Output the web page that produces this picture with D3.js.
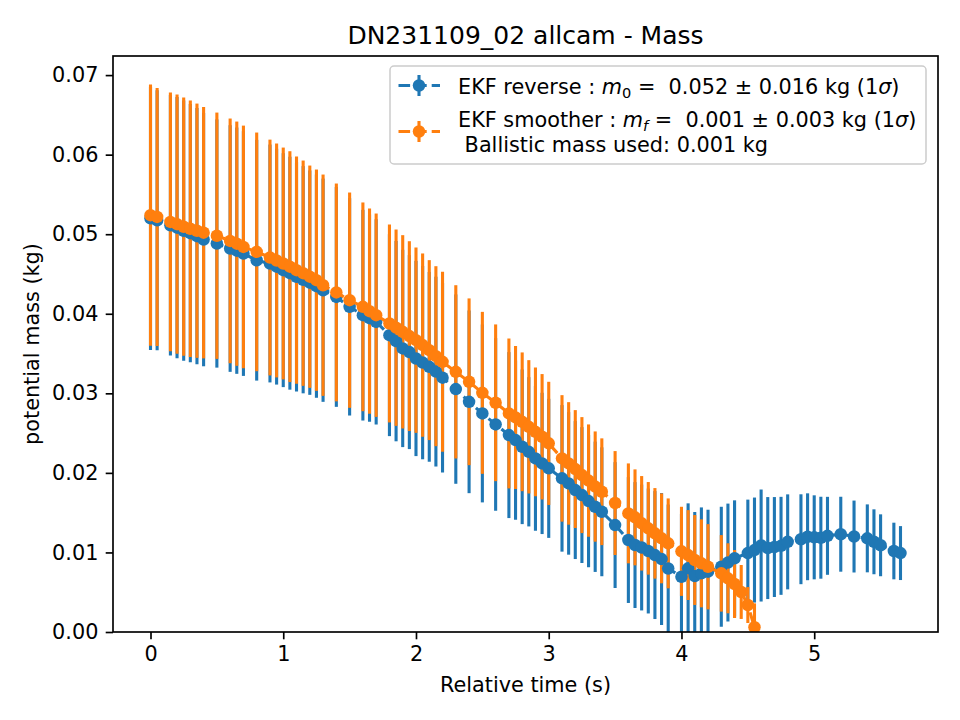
<!DOCTYPE html>
<html>
<head>
<meta charset="utf-8">
<script src="https://cdn.jsdelivr.net/npm/d3@7"></script>
<style>
  body { margin: 0; background: #fff; }
  svg { display: block; font-family: "DejaVu Sans", sans-serif; }
  text { white-space: pre; }
</style>
</head>
<body>
<svg id="chart" width="960" height="720"></svg>
<script>
'use strict';

// EKF reverse (blue)
var reverseTime = [0, 0.05, 0.15, 0.2, 0.25, 0.3, 0.35, 0.4, 0.5, 0.6, 0.65, 0.7, 0.8, 0.9, 0.95,
  1.0, 1.05, 1.1, 1.15, 1.2, 1.25, 1.3, 1.4, 1.5, 1.6, 1.65, 1.7, 1.8, 1.85, 1.9, 1.95,
  2.0, 2.05, 2.1, 2.15, 2.2, 2.3, 2.4, 2.5, 2.6, 2.7, 2.75, 2.8, 2.85, 2.9, 2.95,
  3.0, 3.1, 3.15, 3.2, 3.25, 3.3, 3.35, 3.4, 3.5, 3.6, 3.65, 3.7, 3.75, 3.8, 3.85, 3.9,
  4.0, 4.05, 4.1, 4.15, 4.2, 4.3, 4.35, 4.4, 4.5, 4.55, 4.6, 4.65, 4.7, 4.75, 4.8,
  4.9, 4.95, 5.0, 5.05, 5.1, 5.2, 5.3, 5.4, 5.45, 5.5, 5.6, 5.65];
var reverseMass = [0.05201, 0.05176, 0.05113, 0.05082, 0.05044, 0.05013, 0.04975, 0.04933,
  0.04883, 0.04820, 0.04793, 0.04757, 0.04673, 0.04632, 0.04592,
  0.04548, 0.04510, 0.04464, 0.04428, 0.04391, 0.04347, 0.04296,
  0.04212, 0.04087, 0.03982, 0.03945, 0.03898,
  0.03731, 0.03656, 0.03564, 0.03518,
  0.03438, 0.03386, 0.03333, 0.03273, 0.03197,
  0.03053, 0.02893, 0.02747, 0.02609, 0.02475, 0.02412, 0.02328, 0.02265, 0.02182, 0.02119,
  0.02057, 0.01931, 0.01868, 0.01784, 0.01721, 0.01646, 0.01574, 0.01511,
  0.01344, 0.01156, 0.01093, 0.01062, 0.01018, 0.00967, 0.00917, 0.00798,
  0.00695, 0.00800, 0.00704, 0.00737, 0.00758,
  0.00820, 0.00873, 0.00926,
  0.00992, 0.01030, 0.01087, 0.01055, 0.01068, 0.01083, 0.01133,
  0.01166, 0.01197, 0.01190, 0.01185, 0.01209,
  0.01229, 0.01200, 0.01177, 0.01134, 0.01090,
  0.01018, 0.00992];
var reverseSigma = [0.01655, 0.01633, 0.01638, 0.01642, 0.01636, 0.01623, 0.01611, 0.01593,
  0.01560, 0.01550, 0.01548, 0.01538, 0.01513, 0.01495, 0.01482,
  0.01470, 0.01464, 0.01441, 0.01428, 0.01410, 0.01403, 0.01403,
  0.01382, 0.01366, 0.01324, 0.01303, 0.01290,
  0.01269, 0.01259, 0.01240, 0.01219,
  0.01227, 0.01215, 0.01193, 0.01193, 0.01193,
  0.01190, 0.01148, 0.01118, 0.01085, 0.01043, 0.01000, 0.00972, 0.00938, 0.00910, 0.00888,
  0.00874, 0.00921, 0.00896, 0.00867, 0.00854, 0.00832, 0.00819, 0.00810,
  0.00791, 0.00791, 0.00791, 0.00791, 0.00785, 0.00804, 0.00829, 0.00804,
  0.00791, 0.00817, 0.00804, 0.00829, 0.00779,
  0.00754, 0.00741, 0.00729,
  0.00672, 0.00660, 0.00704, 0.00641, 0.00628, 0.00616, 0.00597,
  0.00565, 0.00546, 0.00528, 0.00515, 0.00490,
  0.00471, 0.00452, 0.00427, 0.00408, 0.00389,
  0.00356, 0.00339];

// EKF smoother (orange)
var smootherTime = [0, 0.05, 0.15, 0.2, 0.25, 0.3, 0.35, 0.4, 0.5, 0.6, 0.65, 0.7, 0.8, 0.9, 0.95,
  1.0, 1.05, 1.1, 1.15, 1.2, 1.25, 1.3, 1.4, 1.5, 1.6, 1.65, 1.7, 1.8, 1.85, 1.9, 1.95,
  2.0, 2.05, 2.1, 2.15, 2.2, 2.3, 2.4, 2.5, 2.6, 2.7, 2.75, 2.8, 2.85, 2.9, 2.95,
  3.0, 3.1, 3.15, 3.2, 3.25, 3.3, 3.35, 3.4, 3.5, 3.6, 3.65, 3.7, 3.75, 3.8, 3.85, 3.9,
  4.0, 4.05, 4.1, 4.15, 4.2, 4.3, 4.35, 4.4, 4.45, 4.5, 4.55];
var smootherMass = [0.05239, 0.05217, 0.05155, 0.05126, 0.05094, 0.05069, 0.05044, 0.05019,
  0.04981, 0.04916, 0.04881, 0.04840, 0.04778, 0.04707, 0.04670,
  0.04632, 0.04592, 0.04548, 0.04510, 0.04466, 0.04422, 0.04359,
  0.04268, 0.04171, 0.04087, 0.04033, 0.03982,
  0.03878, 0.03825, 0.03773, 0.03719,
  0.03668, 0.03606, 0.03543, 0.03467, 0.03396,
  0.03270, 0.03145, 0.03006, 0.02881, 0.02747, 0.02697, 0.02642, 0.02579, 0.02516, 0.02454,
  0.02371, 0.02182, 0.02119, 0.02048, 0.01972, 0.01903, 0.01828, 0.01763,
  0.01621, 0.01491, 0.01441, 0.01366, 0.01303, 0.01240, 0.01177, 0.01114,
  0.01014, 0.00967, 0.00905, 0.00863, 0.00820,
  0.00737, 0.00675, 0.00603,
  0.00503, 0.00339, 0.00060];
var smootherSigma = [0.01642, 0.01621, 0.01626, 0.01629, 0.01623, 0.01611, 0.01598, 0.01580,
  0.01548, 0.01538, 0.01535, 0.01525, 0.01500, 0.01482, 0.01470,
  0.01457, 0.01451, 0.01428, 0.01416, 0.01397, 0.01391, 0.01391,
  0.01369, 0.01353, 0.01312, 0.01290, 0.01278,
  0.01244, 0.01234, 0.01215, 0.01193,
  0.01165, 0.01152, 0.01131, 0.01131, 0.01131,
  0.01089, 0.01048, 0.01018, 0.00985, 0.00942, 0.00899, 0.00872, 0.00838, 0.00809, 0.00788,
  0.00774, 0.00795, 0.00770, 0.00741, 0.00729, 0.00706, 0.00693, 0.00671,
  0.00653, 0.00628, 0.00603, 0.00594, 0.00582, 0.00569, 0.00565, 0.00565,
  0.00560, 0.00565, 0.00565, 0.00553, 0.00536,
  0.00481, 0.00440, 0.00427,
  0.00339, 0.00226, 0.00300];

var xTicks = [0, 1, 2, 3, 4, 5];
var yTicks = [0, 0.01, 0.02, 0.03, 0.04, 0.05, 0.06, 0.07];

(function() {
  var svg = d3.select('#chart');
  var caja = {left: 113, right: 938, top: 56, bottom: 632};
  var azul = '#1f77b4', naranja = '#ff7f0e';

  // Escalas con margen del 5% como matplotlib
  var tMin = d3.min(reverseTime), tMax = d3.max(reverseTime);
  var pad = (tMax - tMin) * 0.05;
  var x = d3.scaleLinear().domain([tMin - pad, tMax + pad]).range([caja.left, caja.right]);
  var y = d3.scaleLinear().domain([0, 0.0724]).range([caja.bottom, caja.top]);

  svg.append('defs').append('clipPath').attr('id', 'recorte')
    .append('rect')
    .attr('x', caja.left).attr('y', caja.top)
    .attr('width', caja.right - caja.left).attr('height', caja.bottom - caja.top);

  function serie(t, m, s) {
    return t.map(function(d, i) { return {t: d, m: m[i], s: s[i]}; });
  }
  var series = [
    {color: azul, datos: serie(reverseTime, reverseMass, reverseSigma)},
    {color: naranja, datos: serie(smootherTime, smootherMass, smootherSigma)}
  ];

  var plot = svg.append('g').attr('clip-path', 'url(#recorte)');

  // Barras de error primero (por debajo de las lineas)
  series.forEach(function(s) {
    plot.append('g').selectAll('line').data(s.datos).enter().append('line')
      .attr('x1', function(d) { return x(d.t); })
      .attr('x2', function(d) { return x(d.t); })
      .attr('y1', function(d) { return y(d.m - d.s); })
      .attr('y2', function(d) { return y(d.m + d.s); })
      .attr('stroke', s.color).attr('stroke-width', 3.1);
  });

  var linea = d3.line().x(function(d) { return x(d.t); }).y(function(d) { return y(d.m); });
  series.forEach(function(s) {
    plot.append('path').datum(s.datos)
      .attr('d', linea)
      .attr('fill', 'none').attr('stroke', s.color).attr('stroke-width', 3.1)
      .attr('stroke-dasharray', '11.6,5');
    plot.append('g').selectAll('circle').data(s.datos).enter().append('circle')
      .attr('cx', function(d) { return x(d.t); })
      .attr('cy', function(d) { return y(d.m); })
      .attr('r', 6.25).attr('fill', s.color);
  });

  // Ejes
  var ejeX = svg.append('g').attr('transform', 'translate(0,' + caja.bottom + ')')
    .call(d3.axisBottom(x).tickValues(xTicks).tickSize(7.3).tickPadding(7.3).tickSizeOuter(0)
      .tickFormat(d3.format('d')));
  var ejeY = svg.append('g').attr('transform', 'translate(' + caja.left + ',0)')
    .call(d3.axisLeft(y).tickValues(yTicks).tickSize(7.3).tickPadding(7.3).tickSizeOuter(0)
      .tickFormat(d3.format('.2f')));
  [ejeX, ejeY].forEach(function(e) {
    e.select('.domain').remove();
    e.selectAll('.tick line').attr('stroke', '#000').attr('stroke-width', 1.67);
    e.selectAll('.tick text').attr('fill', '#000')
      .style('font-family', '"DejaVu Sans", sans-serif').style('font-size', '20.8px');
  });

  svg.append('rect')
    .attr('x', caja.left).attr('y', caja.top)
    .attr('width', caja.right - caja.left).attr('height', caja.bottom - caja.top)
    .attr('fill', 'none').attr('stroke', '#000').attr('stroke-width', 1.67);

  // Textos
  svg.append('text').attr('x', (caja.left + caja.right) / 2).attr('y', 44)
    .attr('text-anchor', 'middle').style('font-size', '25px').text('DN231109_02 allcam - Mass');
  svg.append('text').attr('x', (caja.left + caja.right) / 2).attr('y', 692)
    .attr('text-anchor', 'middle').style('font-size', '20.8px').text('Relative time (s)');
  svg.append('text').attr('transform', 'translate(39,' + (caja.top + caja.bottom) / 2 + ') rotate(-90)')
    .attr('text-anchor', 'middle').style('font-size', '20.8px').text('potential mass (kg)');

  // Leyenda
  var ley = svg.append('g');
  ley.append('rect').attr('x', 390).attr('y', 66).attr('width', 536).attr('height', 98)
    .attr('rx', 4).attr('fill', '#fff').attr('fill-opacity', 0.8)
    .attr('stroke', '#cccccc').attr('stroke-width', 1.5);

  function simbolo(cy, color) {
    var g = ley.append('g');
    g.append('line').attr('x1', 398.5).attr('x2', 440).attr('y1', cy).attr('y2', cy)
      .attr('stroke', color).attr('stroke-width', 3.1).attr('stroke-dasharray', '11.6,5');
    g.append('line').attr('x1', 419).attr('x2', 419).attr('y1', cy - 10.5).attr('y2', cy + 10.5)
      .attr('stroke', color).attr('stroke-width', 3.1);
    g.append('circle').attr('cx', 419).attr('cy', cy).attr('r', 6.25).attr('fill', color);
  }
  simbolo(85.5, azul);
  simbolo(131.5, naranja);

  function etiqueta(yb, partes) {
    var t = ley.append('text').attr('x', 458).attr('y', yb).style('font-size', '20.8px');
    partes.forEach(function(p) {
      var ts = t.append('tspan').text(p.txt);
      if (p.it) ts.style('font-style', 'italic');
      if (p.sub) ts.style('font-size', '14.6px').attr('dy', 4);
      if (p.up) ts.attr('dy', -4);
    });
  }
  etiqueta(94, [
    {txt: 'EKF reverse : '}, {txt: 'm', it: true}, {txt: '0', sub: true},
    {txt: ' =  0.052 \u00b1 0.016 kg (1', up: true}, {txt: '\u03c3', it: true}, {txt: ')'}
  ]);
  etiqueta(127, [
    {txt: 'EKF smoother : '}, {txt: 'm', it: true}, {txt: 'f', sub: true, it: true},
    {txt: ' =  0.001 \u00b1 0.003 kg (1', up: true}, {txt: '\u03c3', it: true}, {txt: ')'}
  ]);
  etiqueta(152, [{txt: ' Ballistic mass used: 0.001 kg'}]);
})();
</script>
</body>
</html>
